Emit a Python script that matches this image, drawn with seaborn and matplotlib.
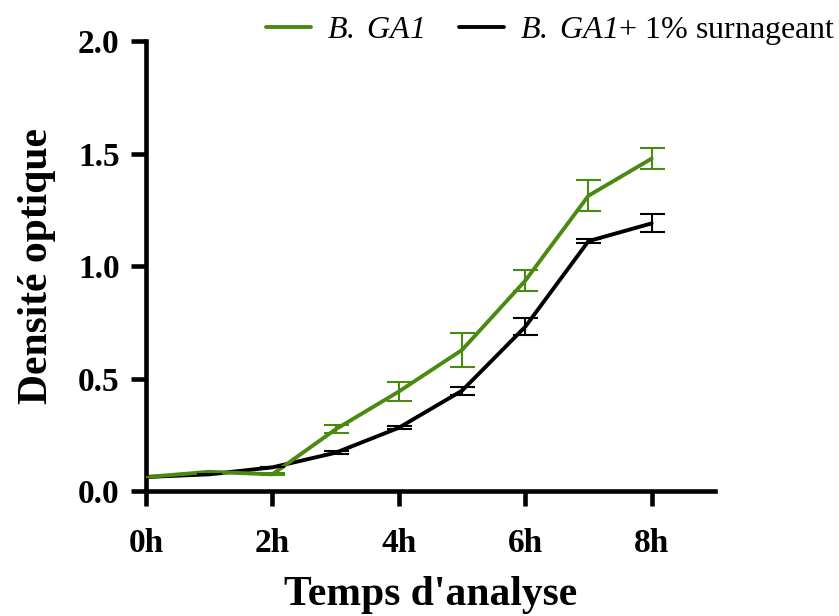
import matplotlib
matplotlib.use("Agg")
import matplotlib.pyplot as plt
import seaborn as sns
import pandas as pd
from matplotlib.lines import Line2D

hours = [0, 1, 2, 3, 4, 5, 6, 7, 8]
ga1 = [0.062, 0.085, 0.074, 0.274, 0.442, 0.627, 0.935, 1.313, 1.478]
ga1_err = [0.0, 0.0, 0.005, 0.018, 0.044, 0.075, 0.047, 0.068, 0.047]
ga1_surn = [0.062, 0.074, 0.105, 0.17, 0.281, 0.446, 0.73, 1.111, 1.19]
ga1_surn_err = [0.0, 0.0, 0.0, 0.006, 0.006, 0.018, 0.038, 0.01, 0.04]
xtick_vals = [0, 2, 4, 6, 8]
xtick_labels = ["0h", "2h", "4h", "6h", "8h"]
ytick_vals = [0.0, 0.5, 1.0, 1.5, 2.0]

green = "#4a8a10"
black = "#000000"

sns.set_theme(style="ticks")
plt.rcParams['font.family'] = ['Liberation Serif', 'DejaVu Serif']
plt.rcParams['mathtext.fontset'] = 'custom'
plt.rcParams['mathtext.it'] = 'Liberation Serif:italic'
plt.rcParams['mathtext.sf'] = 'Liberation Serif:italic'
plt.rcParams['mathtext.rm'] = 'Liberation Serif'
plt.rcParams['text.color'] = 'black'
plt.rcParams['axes.labelcolor'] = 'black'

df = pd.DataFrame({
    "h": hours * 2,
    "od": ga1 + ga1_surn,
    "serie": ["GA1"] * len(hours) + ["GA1S"] * len(hours),
})

fig = plt.figure(figsize=(8.39, 6.16), dpi=100)
ax = fig.add_axes([0.174, 0.203, 0.678, 0.730])

sns.lineplot(data=df, x="h", y="od", hue="serie", palette={"GA1": green, "GA1S": black},
             hue_order=["GA1S", "GA1"], linewidth=2.8, ax=ax, legend=False, errorbar=None)
ax.errorbar(hours, ga1_surn, yerr=ga1_surn_err, fmt="none", ecolor=black, elinewidth=1.5,
            capsize=9, capthick=1.5, zorder=3)
ax.errorbar(hours, ga1, yerr=ga1_err, fmt="none", ecolor=green, elinewidth=1.5,
            capsize=9, capthick=1.5, zorder=4)

ax.set_xlim(0, 9)
ax.set_ylim(0, 2.0)
ax.set_xticks(xtick_vals)
ax.set_xticklabels(xtick_labels)
ax.set_yticks(ytick_vals)
ax.set_yticklabels([f"{v:.1f}" for v in ytick_vals])
for s in ["top", "right"]:
    ax.spines[s].set_visible(False)
for s in ["left", "bottom"]:
    ax.spines[s].set_linewidth(3.3)
    ax.spines[s].set_color("black")
ax.tick_params(axis="both", direction="out", length=11, width=3.3, colors="black",
               labelsize=24)
ax.tick_params(axis="x", pad=16)
ax.tick_params(axis="y", pad=8)
for lab in ax.get_xticklabels() + ax.get_yticklabels():
    lab.set_fontweight("bold")

ax.set_xlabel("Temps d'analyse", fontsize=30, fontweight="bold", labelpad=12)
ax.set_ylabel("Densité optique", fontsize=30, fontweight="bold", labelpad=16)

handles = [Line2D([0], [0], color=green, lw=2.8), Line2D([0], [0], color=black, lw=2.8)]
labels = [r"$\mathsf{B.\ GA1}$", r"$\mathsf{B.\ GA1}$+ 1% surnageant"]
leg = fig.legend(handles, labels, loc="upper right", bbox_to_anchor=(1.03, 1.022), ncol=2,
                 frameon=False, fontsize=23, handlelength=1.4, columnspacing=1.1,
                 handletextpad=0.5)

fig.savefig("out.png", dpi=100)
